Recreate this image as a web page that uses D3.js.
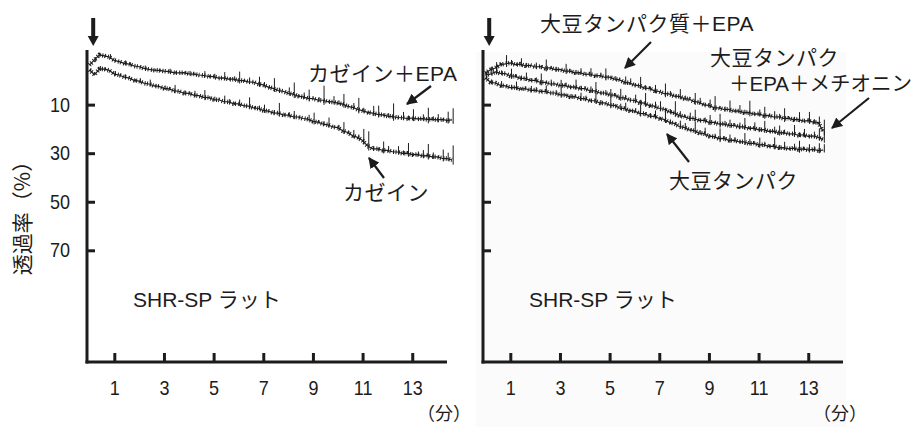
<!DOCTYPE html>
<html>
<head>
<meta charset="utf-8">
<script src="https://cdn.jsdelivr.net/npm/d3@7"></script>
<style>
body{margin:0;background:#fff}
svg{display:block}
</style>
</head>
<body>
<svg id="chart" width="923" height="427"></svg>
<script>
// sampling step of the recorded traces (min)
const step = 0.2;
const minuteTicks = [1, 3, 5, 7, 9, 11, 13];
const pctTicks = [10, 30, 50, 70];
const injectAt = 0.15;

// left panel: casein diets
const caseinEpa = [-6.3,-8.4,-10.5,-10.1,-9.6,-8.2,-7.7,-7.0,-6.7,-5.9,
  -5.6,-4.9,-4.5,-4.2,-4.1,-3.8,-3.6,-3.2,-3.1,-3.2,
  -2.7,-2.6,-2.2,-2.0,-1.6,-1.5,-0.9,-1.0,-0.5,-0.5,
  0.0,0.1,0.6,0.7,1.5,1.9,2.8,3.3,4.2,4.5,
  5.3,5.7,6.5,6.8,7.4,7.5,8.1,8.2,8.8,8.9,
  9.4,9.8,10.7,11.1,12.0,12.5,13.2,13.5,14.0,14.2,
  14.7,14.9,15.3,15.4,15.7,15.5,15.9,15.8,16.1,16.0,
  16.3,16.1,16.5,16.3];
const caseinEpaSpikes = [0,1,0.5,0.5,1,0.5,0,1,0.5,0,
  0.5,1,0,0.5,0.5,0,1,0.5,0,0.5,
  1,0.5,0,1.5,0.5,1,0,2,0.5,1,
  3,0.5,1.5,0,2.5,1,0.5,3.5,1,0,
  2,4,0.5,1.5,3,0,1,5,0.5,2,
  1,3.5,0,1.5,4,1,0.5,2.5,3,0.5,
  1,4.5,0.5,2,1,3,0.5,1.5,4,1,
  2,0.5,3,4];
const casein = [-4.3,-2.3,-4.7,-4.6,-4.1,-2.6,-2.2,-1.3,-0.9,0.0,
  0.3,1.2,1.5,2.3,2.5,3.3,3.5,4.3,4.5,5.3,
  5.4,6.1,6.3,7.0,7.1,7.9,8.0,8.7,8.9,9.6,
  9.7,10.4,10.6,11.3,11.6,12.4,12.7,13.4,13.5,14.2,
  14.3,15.0,15.1,15.7,16.0,16.9,17.2,18.0,18.3,19.2,
  19.5,20.8,21.5,22.8,23.5,24.8,27.0,28.2,28.2,28.8,
  28.8,29.4,29.5,30.1,30.0,30.6,30.5,31.1,31.0,31.5,
  31.5,32.1,32.2,32.8];
const caseinSpikes = [0.5,0,1,0.5,0,1,0.5,1,0,0.5,
  1,0,1.5,0.5,0,1,0.5,2,0,1,
  0.5,1.5,0,2.5,0.5,1,0,2,1,0.5,
  1.5,0,3,0.5,1,2,0,1,3.5,0.5,
  1,2,0.5,0,1.5,3,0.5,1,2.5,0,
  1,3,0.5,2,1,4,5,1,0.5,3,
  1.5,0.5,2,1,3.5,0.5,1,2,4,1.5,
  0.5,3,2,5];

// right panel: soy protein diets
const soyEpa = [-3.0,-4.4,-5.1,-6.5,-6.8,-7.2,-6.5,-6.7,-6.0,-6.2,
  -5.5,-5.7,-5.0,-5.2,-4.4,-4.5,-3.8,-3.8,-3.1,-3.2,
  -2.5,-2.6,-1.9,-2.0,-1.3,-1.3,-0.5,-0.2,0.8,1.0,
  2.0,2.2,3.2,3.3,4.3,4.6,5.5,5.6,6.5,6.6,
  7.5,7.7,8.8,9.0,10.1,10.3,11.3,11.3,12.0,11.9,
  12.7,12.6,13.3,13.2,13.9,13.8,14.5,14.4,15.1,15.0,
  15.7,15.6,16.2,16.1,16.8,16.6,17.2,17.3,21.0];
const soyEpaSpikes = [0.5,1,2,0.5,3,1,0.5,2,1,0,
  1.5,0.5,3,0.5,1,0,2.5,0.5,1,1.5,
  0,2,0.5,1,3,0.5,1,0,2,1.5,
  0.5,3,1,0.5,2,0,3.5,1,0.5,2.5,
  1,0,3,1.5,0.5,2,4,0.5,1,3,
  0.5,2,1,4,0.5,1.5,3,0.5,2,1,
  3.5,0.5,1,2.5,0.5,3,1,2,4];
const soyEpaMet = [-2.2,-2.6,-3.5,-2.9,-2.8,-1.8,-1.7,-0.8,-0.8,0.0,
  0.0,0.8,0.8,1.5,1.4,2.2,2.1,2.8,2.7,3.4,
  3.4,4.3,4.3,5.2,5.2,6.0,6.1,7.1,7.2,8.1,
  8.3,9.2,9.4,10.4,10.6,11.6,11.9,13.0,13.4,14.5,
  14.9,15.7,15.7,16.5,16.5,17.3,17.3,18.0,17.9,18.6,
  18.5,19.2,19.1,19.8,19.7,20.4,20.3,21.0,20.9,21.6,
  21.5,22.1,22.0,22.6,22.4,23.1,22.9,23.5,24.4];
const soyEpaMetSpikes = [1,0.5,2,1,0,2.5,0.5,1,2,0.5,
  1,3,0.5,1.5,0,2,1,0.5,2.5,1,
  0,1.5,3,0.5,1,2,0.5,3,1,0,
  2,1,3.5,0.5,1.5,2.5,0.5,1,4,1.5,
  0.5,2,3,0.5,1,2.5,0.5,3.5,1,2,
  0.5,1.5,3,0.5,2,1,3,0.5,1.5,2.5,
  1,0.5,3,1,2,0.5,1.5,3,3];
const soy = [-1.0,0.8,1.1,2.1,2.3,3.0,2.9,3.6,3.4,4.1,
  4.0,4.6,4.5,5.2,5.2,6.0,6.0,6.8,6.7,7.5,
  7.5,8.4,8.4,9.3,9.3,10.2,10.3,11.4,11.6,12.5,
  12.6,13.6,13.7,14.7,14.8,15.7,16.1,17.3,17.7,19.0,
  19.4,20.4,20.7,21.7,21.9,23.0,23.2,24.0,23.9,24.7,
  24.6,25.3,25.3,26.0,25.9,26.6,26.5,27.2,27.1,27.8,
  27.7,28.2,27.9,28.5,28.2,28.7,28.4,28.9,28.7];
const soySpikes = [0.5,1,0,1.5,0.5,1,2,0.5,0,1.5,
  1,0.5,2,0,1,2.5,0.5,1,0,2,
  1,0.5,2.5,1,0,3,0.5,1.5,2,0.5,
  1,3,0.5,1,2,0.5,3.5,1,0.5,2,
  1.5,0.5,3,1,2,0.5,1,3.5,0.5,2,
  1,0.5,3,1.5,0.5,2.5,1,0.5,3,1,
  2,0.5,1.5,3,0.5,2,1,2.5,2];

const svg = d3.select('#chart');
const numFont = '"Liberation Sans", Arial, sans-serif';
const jpFont = '"Liberation Sans", "Noto Sans CJK JP", sans-serif';
const ink = '#1c1c1c';

const x = d3.scaleLinear().domain([-0.1, 14.4]).range([0, 360]);
const y = d3.scaleLinear().domain([-12.5, 116]).range([50, 362]);

const defs = svg.append('defs');
defs.append('marker')
  .attr('id', 'head')
  .attr('viewBox', '0 0 10 10')
  .attr('refX', 9).attr('refY', 5)
  .attr('markerWidth', 5).attr('markerHeight', 5)
  .attr('markerUnits', 'strokeWidth')
  .attr('orient', 'auto')
  .append('path').attr('d', 'M0,0L10,5L0,10z').attr('fill', ink);

// faint tint of the right-hand scan
svg.append('rect').attr('x', 476).attr('y', 52).attr('width', 370).attr('height', 375).attr('fill', '#fbfbfb');

const line = d3.line().x(d => x(d[0])).y(d => y(d[1]));

function drawPanel(left, series, showLabels) {
  const g = svg.append('g').attr('transform', `translate(${left},0)`);

  const ya = d3.axisLeft(y).tickValues(pctTicks).tickSize(-8).tickPadding(19);
  if (!showLabels) ya.tickFormat('');
  const yg = g.append('g').call(ya);
  const xa = d3.axisBottom(x).tickValues(minuteTicks).tickSize(-9).tickPadding(19);
  const xg = g.append('g').attr('transform', 'translate(0,362)').call(xa);
  [yg, xg].forEach(a => {
    a.select('.domain').remove();
    a.selectAll('line').attr('stroke', ink).attr('stroke-width', 3);
    a.selectAll('text')
      .attr('font-family', numFont).attr('font-size', 20)
      .attr('fill', ink).attr('transform', 'scale(0.9,1)');
  });

  g.append('line').attr('x1', 0).attr('y1', y.range()[0]).attr('x2', 0).attr('y2', 363.5)
    .attr('stroke', ink).attr('stroke-width', 3);
  g.append('line').attr('x1', -1.5).attr('y1', 362).attr('x2', x.range()[1]).attr('y2', 362)
    .attr('stroke', ink).attr('stroke-width', 3);

  // injection marker
  const ax = x(injectAt);
  g.append('path')
    .attr('d', `M${ax - 2},18H${ax + 2}V36H${ax + 5.5}L${ax},46L${ax - 5.5},36H${ax - 2}Z`)
    .attr('fill', ink);

  series.forEach(s => {
    const pts = s.values.map((v, i) => [i * step, v]);
    // hatched band of the recorder trace
    g.append('path').datum(pts)
      .attr('d', line)
      .attr('fill', 'none').attr('stroke', ink)
      .attr('stroke-width', 4.5).attr('stroke-dasharray', '1 1.4 1 2.3');
    g.append('path').datum(pts)
      .attr('d', line)
      .attr('fill', 'none').attr('stroke', ink)
      .attr('stroke-width', 1.2).attr('stroke-linejoin', 'round');
    g.append('g').selectAll('line')
      .data(pts.map((p, i) => [p[0], p[1], s.spikes[i]]).filter(d => d[2] > 0))
      .join('line')
      .attr('x1', d => x(d[0]) + 1.2).attr('x2', d => x(d[0]) + 1.2)
      .attr('y1', d => y(d[1] + d[2] * 0.3) + 1).attr('y2', d => y(d[1] - d[2] * 1.2))
      .attr('stroke', ink).attr('stroke-width', 1);
  });

  g.append('text').attr('x', 357).attr('y', 420)
    .attr('text-anchor', 'middle')
    .attr('font-family', '"Noto Sans CJK JP", sans-serif').attr('font-size', 18)
    .attr('fill', ink).text('（分）');

  g.append('text').attr('x', 46).attr('y', 307)
    .attr('font-family', jpFont).attr('font-size', 21)
    .attr('fill', ink).text('SHR-SP ラット');
}

drawPanel(87, [
  {values: caseinEpa, spikes: caseinEpaSpikes},
  {values: casein, spikes: caseinSpikes}
], true);
drawPanel(483, [
  {values: soyEpa, spikes: soyEpaSpikes},
  {values: soyEpaMet, spikes: soyEpaMetSpikes},
  {values: soy, spikes: soySpikes}
], false);

svg.append('text')
  .attr('transform', 'translate(23,213) rotate(-90)')
  .attr('text-anchor', 'middle').attr('dy', '0.35em')
  .attr('font-family', '"Noto Sans CJK JP", sans-serif').attr('font-size', 21)
  .attr('fill', ink).text('透過率（%）');

// curve labels and pointers
const notes = [
  {text: 'カゼイン＋EPA', x: 308, y: 81, from: [431, 86], to: [407, 104]},
  {text: 'カゼイン', x: 343, y: 200, from: [384, 178], to: [369, 158]},
  {text: '大豆タンパク質＋EPA', x: 540, y: 31, from: [651, 42], to: [625, 68]},
  {text: '大豆タンパク', x: 710, y: 65},
  {text: '＋EPA＋メチオニン', x: 729, y: 91, size: 20.5, from: [869, 98], to: [832, 128]},
  {text: '大豆タンパク', x: 669, y: 188, from: [689, 162], to: [667, 134]}
];
notes.forEach(n => {
  svg.append('text').attr('x', n.x).attr('y', n.y)
    .attr('font-family', jpFont).attr('font-size', n.size || 21)
    .attr('letter-spacing', n.size ? 0 : 0.5)
    .attr('fill', ink).text(n.text);
  if (n.from) {
    svg.append('line')
      .attr('x1', n.from[0]).attr('y1', n.from[1])
      .attr('x2', n.to[0]).attr('y2', n.to[1])
      .attr('stroke', ink).attr('stroke-width', 2.2)
      .attr('marker-end', 'url(#head)');
  }
});
</script>
</body>
</html>
